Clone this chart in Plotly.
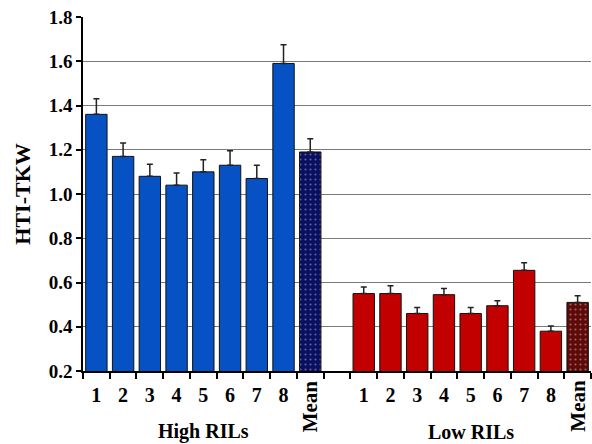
import plotly.graph_objects as go

# ---- data ----
categories = ["1", "2", "3", "4", "5", "6", "7", "8", "Mean", "",
              "1", "2", "3", "4", "5", "6", "7", "8", "Mean"]
high_labels = ["1", "2", "3", "4", "5", "6", "7", "8", "Mean"]
high_vals = [1.36, 1.17, 1.08, 1.04, 1.10, 1.13, 1.07, 1.59, 1.19]
high_err = [0.07, 0.06, 0.055, 0.055, 0.055, 0.065, 0.06, 0.085, 0.06]
low_labels = ["1", "2", "3", "4", "5", "6", "7", "8", "Mean"]
low_vals = [0.55, 0.55, 0.46, 0.545, 0.46, 0.495, 0.655, 0.38, 0.51]
low_err = [0.03, 0.035, 0.027, 0.028, 0.027, 0.022, 0.034, 0.023, 0.03]
y_ticks = [0.2, 0.4, 0.6, 0.8, 1.0, 1.2, 1.4, 1.6, 1.8]
group_titles = ["High RILs", "Low RILs"]

FONT = "Liberation Serif, Times New Roman, serif"
high_x = list(range(0, 9))
low_x = list(range(10, 19))

fig = go.Figure()
for xs, vals, errs, labels, solid, dark, dots in [
    (high_x, high_vals, high_err, high_labels, "#0652c4", "#0a0f5e", "#a8b2f7"),
    (low_x, low_vals, low_err, low_labels, "#c20000", "#5c0a0a", "#f0b4b4"),
]:
    ind = [i for i, l in enumerate(labels) if l != "Mean"]
    mean = [i for i, l in enumerate(labels) if l == "Mean"]
    err_style = dict(type="data", symmetric=False, color="#222222", thickness=1.5, width=3)
    fig.add_trace(go.Bar(
        x=[xs[i] for i in ind], y=[vals[i] for i in ind], width=0.8,
        marker=dict(color=solid, line=dict(color="#111111", width=1)),
        error_y=dict(array=[errs[i] for i in ind], arrayminus=[0] * len(ind), **err_style),
        showlegend=False,
    ))
    fig.add_trace(go.Bar(
        x=[xs[i] for i in mean], y=[vals[i] for i in mean], width=0.8,
        marker=dict(color=dark, line=dict(color="#111111", width=1),
                    pattern=dict(shape=".", fgcolor=dots, size=5, solidity=0.15,
                                 fillmode="overlay")),
        error_y=dict(array=[errs[i] for i in mean], arrayminus=[0] * len(mean), **err_style),
        showlegend=False,
    ))

tick_x = [i for i, c in enumerate(categories) if c not in ("Mean", "")]
tick_t = [f"<b>{categories[i]}</b>" for i in tick_x]

fig.update_layout(
    width=592, height=444,
    margin=dict(l=83, r=1, t=17, b=73),
    paper_bgcolor="white", plot_bgcolor="white",
    font=dict(family=FONT, color="black"),
    barmode="overlay",
    xaxis=dict(
        range=[-0.5, 18.5], tickmode="array", tickvals=tick_x, ticktext=tick_t,
        ticks="", showgrid=False, showline=True, linecolor="black", linewidth=1.5,
        tickfont=dict(family=FONT, size=20, color="black"),
        ticklabelstandoff=5, zeroline=False,
        minor=dict(tickmode="array", tickvals=[i - 0.5 for i in range(20)],
                   ticks="outside", ticklen=6, tickcolor="black", tickwidth=1.5,
                   showgrid=False),
    ),
    yaxis=dict(
        range=[0.2, 1.8], tickmode="array", tickvals=y_ticks,
        ticktext=[f"<b>{v:.1f}</b>" for v in y_ticks],
        ticks="outside", ticklen=5, tickcolor="black", tickwidth=1.5,
        showline=True, linecolor="black", linewidth=1.5,
        showgrid=True, gridcolor="#7a7a7a", gridwidth=1.2, zeroline=False,
        tickfont=dict(family=FONT, size=19, color="black"),
        title=dict(text="<b>HTI-TKW</b>", font=dict(family=FONT, size=22, color="black"),
                   standoff=12),
    ),
)

for xi, c in enumerate(categories):
    if c == "Mean":
        fig.add_annotation(x=xi, xref="x", y=-0.178, yref="paper", text="<b>Mean</b>",
                           textangle=-90, showarrow=False,
                           font=dict(family=FONT, size=21, color="black"))

for xc, t in zip([4, 14], group_titles):
    fig.add_annotation(x=xc, xref="x", y=-0.172, yref="paper", text=f"<b>{t}</b>",
                       showarrow=False, yanchor="middle",
                       font=dict(family=FONT, size=20, color="black"))

fig.write_html("out.html")
